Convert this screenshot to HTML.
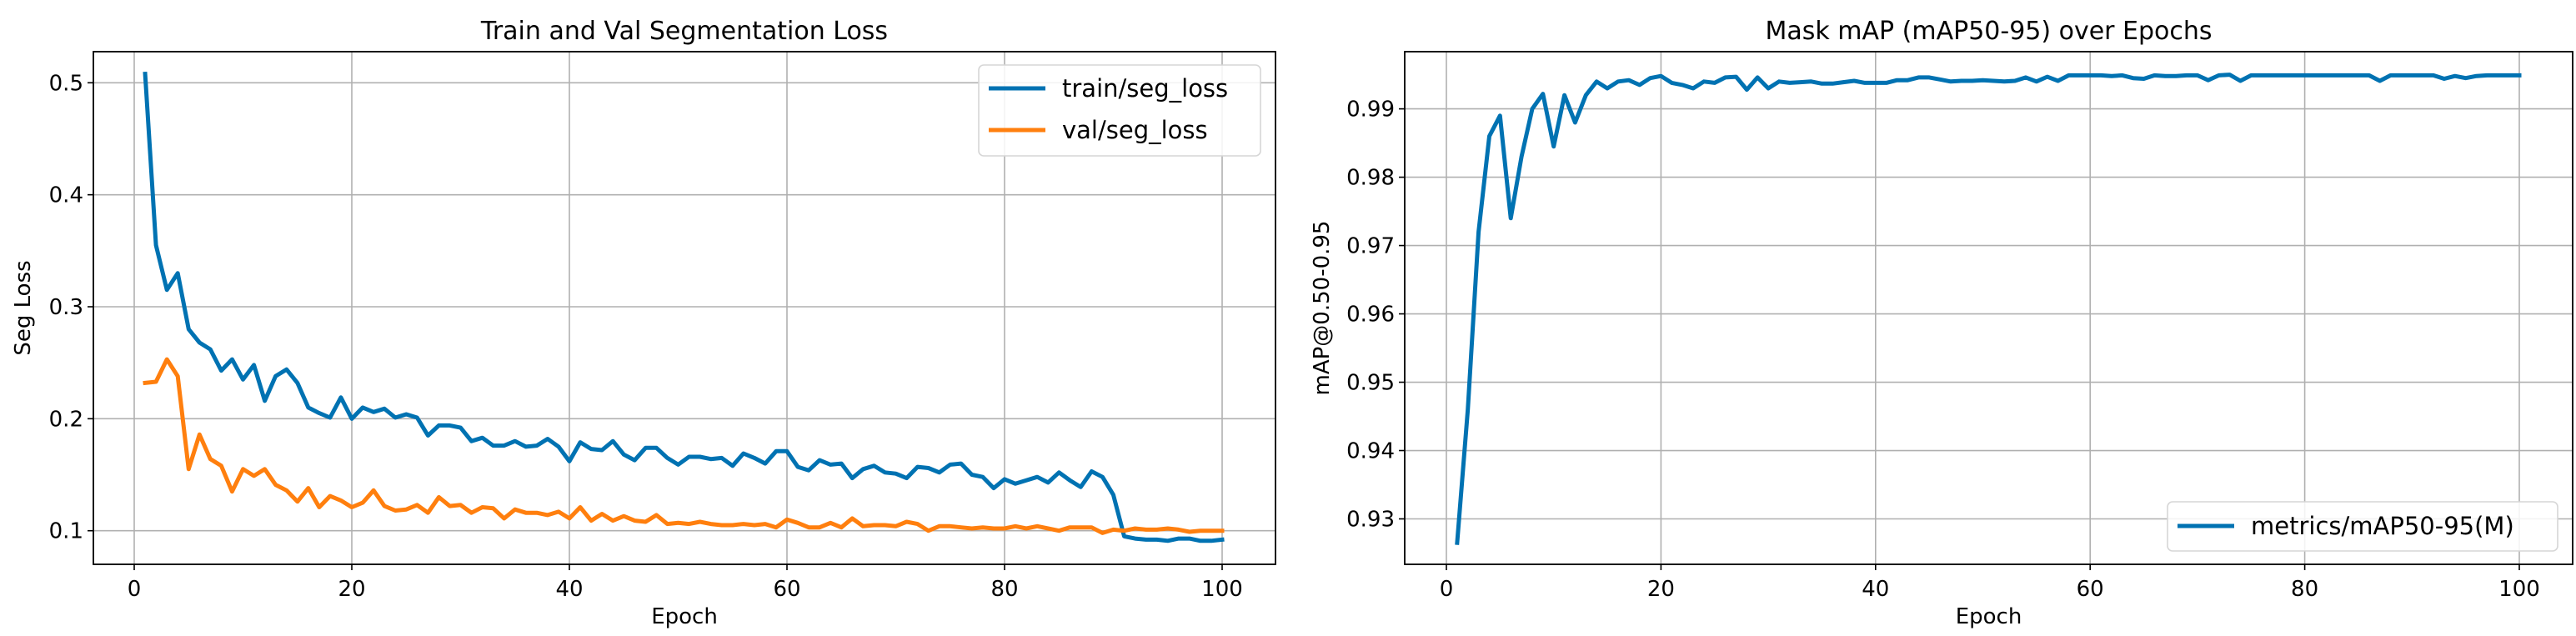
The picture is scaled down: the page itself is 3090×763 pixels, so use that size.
<!DOCTYPE html>
<html><head><meta charset="utf-8"><style>
html,body{margin:0;padding:0;background:#fff;}
svg{display:block;font-family:"DejaVu Sans","Liberation Sans",sans-serif;}
</style></head><body>
<svg id="chart" width="3090" height="763" viewBox="0 0 3090 763" xmlns="http://www.w3.org/2000/svg"></svg>
<script>
const epochs = Array.from({length:100},(_,i)=>i+1);
const trainLoss = [0.508,0.355,0.315,0.33,0.28,0.268,0.262,0.243,0.253,0.235,0.248,0.216,0.238,0.244,0.232,0.21,0.205,0.201,0.219,0.2,0.21,0.206,0.209,0.201,0.204,0.201,0.185,0.194,0.194,0.192,0.18,0.183,0.176,0.176,0.18,0.175,0.176,0.182,0.175,0.162,0.179,0.173,0.172,0.18,0.168,0.163,0.174,0.174,0.165,0.159,0.166,0.166,0.164,0.165,0.158,0.169,0.165,0.16,0.171,0.171,0.157,0.154,0.163,0.159,0.16,0.147,0.155,0.158,0.152,0.151,0.147,0.157,0.156,0.152,0.159,0.16,0.15,0.148,0.138,0.146,0.142,0.145,0.148,0.143,0.152,0.145,0.139,0.153,0.148,0.132,0.095,0.093,0.092,0.092,0.091,0.093,0.093,0.091,0.091,0.092];
const valLoss = [0.232,0.233,0.253,0.238,0.155,0.186,0.164,0.158,0.135,0.155,0.149,0.155,0.141,0.136,0.126,0.138,0.121,0.131,0.127,0.121,0.125,0.136,0.122,0.118,0.119,0.123,0.116,0.13,0.122,0.123,0.116,0.121,0.12,0.111,0.119,0.116,0.116,0.114,0.117,0.111,0.121,0.109,0.115,0.109,0.113,0.109,0.108,0.114,0.106,0.107,0.106,0.108,0.106,0.105,0.105,0.106,0.105,0.106,0.103,0.11,0.107,0.103,0.103,0.107,0.103,0.111,0.104,0.105,0.105,0.104,0.108,0.106,0.1,0.104,0.104,0.103,0.102,0.103,0.102,0.102,0.104,0.102,0.104,0.102,0.1,0.103,0.103,0.103,0.098,0.101,0.1,0.102,0.101,0.101,0.102,0.101,0.099,0.1,0.1,0.1];
const mapVals = [0.9265,0.946,0.972,0.986,0.989,0.974,0.983,0.990,0.9922,0.9845,0.992,0.988,0.992,0.994,0.993,0.994,0.9942,0.9935,0.9945,0.9948,0.9938,0.9935,0.993,0.994,0.9938,0.9946,0.9947,0.9928,0.9946,0.993,0.994,0.9938,0.9939,0.994,0.9937,0.9937,0.9939,0.9941,0.9938,0.9938,0.9938,0.9942,0.9942,0.9946,0.9946,0.9943,0.994,0.9941,0.9941,0.9942,0.9941,0.994,0.9941,0.9946,0.994,0.9947,0.9941,0.9949,0.9949,0.9949,0.9949,0.9948,0.9949,0.9945,0.9944,0.9949,0.9948,0.9948,0.9949,0.9949,0.9942,0.9949,0.995,0.9941,0.9949,0.9949,0.9949,0.9949,0.9949,0.9949,0.9949,0.9949,0.9949,0.9949,0.9949,0.9949,0.9941,0.9949,0.9949,0.9949,0.9949,0.9949,0.9944,0.9948,0.9945,0.9948,0.9949,0.9949,0.9949,0.9949];
const xTicks = [0,20,40,60,80,100];
const lossTicks = [0.1,0.2,0.3,0.4,0.5];
const mapTicks = [0.93,0.94,0.95,0.96,0.97,0.98,0.99];

const svg = document.getElementById('chart');
const NS = 'http://www.w3.org/2000/svg';
function mk(tag, attrs, parent){
  const e = document.createElementNS(NS, tag);
  for (const k in attrs) e.setAttribute(k, attrs[k]);
  (parent||svg).appendChild(e);
  return e;
}
function txt(s, attrs, parent){ const t = mk('text', attrs, parent); t.textContent = s; return t; }

function panel(cfg){
  const g = mk('g', {});
  
  
  const xS = v => cfg.x0 + (v - 0) * (cfg.x100 - cfg.x0) / 100;
  const yS = v => cfg.yA + (v - cfg.vA) * (cfg.yB - cfg.yA) / (cfg.vB - cfg.vA);
  // grid
  xTicks.forEach(t => {
    const l = mk('line', {x1:xS(t), x2:xS(t), y1:cfg.top, y2:cfg.bot, stroke:'#b0b0b0', 'stroke-width':1.6}, g);
    
    
    const tk = mk('line', {x1:xS(t), x2:xS(t), y1:cfg.bot, y2:cfg.bot+7, stroke:'#000', 'stroke-width':1.6}, g);
    
    
    const lb = txt(String(t), {x:xS(t), y:cfg.bot+38, 'font-size':26, 'text-anchor':'middle', fill:'#000'}, g);
    
    
  });
  cfg.yTicks.forEach(t => {
    const l = mk('line', {x1:cfg.left, x2:cfg.right, y1:yS(t), y2:yS(t), stroke:'#b0b0b0', 'stroke-width':1.6}, g);
    
    
    const tk = mk('line', {x1:cfg.left-7, x2:cfg.left, y1:yS(t), y2:yS(t), stroke:'#000', 'stroke-width':1.6}, g);
    
    
    const lb = txt(cfg.fmt(t), {x:cfg.left-12, y:yS(t)+9, 'font-size':26, 'text-anchor':'end', fill:'#000'}, g);
    
    
  });
  // series
  cfg.series.forEach(s => {
    const d = s.vals.map((v,i) => (i?'L':'M') + xS(epochs[i]).toFixed(1) + ' ' + yS(v).toFixed(1)).join(' ');
    const p = mk('path', {d:d, fill:'none', stroke:s.color, 'stroke-width':5, 'stroke-linejoin':'round', 'stroke-linecap':'square'}, g);
    
    
  });
  // frame
  const fr = mk('rect', {x:cfg.left, y:cfg.top, width:cfg.right-cfg.left, height:cfg.bot-cfg.top, fill:'none', stroke:'#000', 'stroke-width':1.8}, g);
  
  
  const ti = txt(cfg.title, {x:(cfg.left+cfg.right)/2, y:47, 'font-size':30, 'text-anchor':'middle', fill:'#000'}, g);
  
  
  const xl = txt('Epoch', {x:(cfg.left+cfg.right)/2, y:748, 'font-size':26, 'text-anchor':'middle', fill:'#000'}, g);
  
  
  const yl = txt(cfg.ylabel, {x:0, y:0, 'font-size':26, 'text-anchor':'middle', fill:'#000', transform:`translate(${cfg.ylx},${(cfg.top+cfg.bot)/2}) rotate(-90)`}, g);
  
  
  // legend
  const L = cfg.legend;
  const lg = mk('g', {}, g);
  
  
  mk('rect', {x:L.x, y:L.y, width:L.w, height:L.h, rx:6, fill:'#fff', 'fill-opacity':0.85, stroke:'#d6d6d6', 'stroke-width':1.6}, lg);
  cfg.series.forEach((s,i) => {
    const ey = L.y + 28 + i*50 + (L.h < 80 ? 1 : 0);
    const ln = mk('line', {x1:L.x+12, x2:L.x+80, y1:ey, y2:ey, stroke:s.color, 'stroke-width':5}, lg);
    
    
    const lt = txt(s.label, {x:L.x+100, y:ey+10, 'font-size':29, fill:'#000'}, lg);
    
    
  });
}

panel({name:'seg-loss-chart', left:112, right:1530, top:62, bot:677, x0:161, x100:1466,
  yA:636.7, vA:0.1, yB:99.3, vB:0.5, yTicks:lossTicks, fmt:v=>v.toFixed(1),
  title:'Train and Val Segmentation Loss', ylabel:'Seg  Loss', ylx:36,
  series:[{id:'train-seg-loss-line', label:'train/seg_loss', color:'#0072b2', vals:trainLoss},
          {id:'val-seg-loss-line', label:'val/seg_loss', color:'#ff7f0e', vals:valLoss}],
  legend:{x:1174, y:78, w:338, h:109}});
panel({name:'mask-map-chart', left:1685, right:3086, top:62, bot:677, x0:1735, x100:3022,
  yA:622.5, vA:0.93, yB:130.6, vB:0.99, yTicks:mapTicks, fmt:v=>v.toFixed(2),
  title:'Mask mAP (mAP50-95) over Epochs', ylabel:'mAP@0.50-0.95', ylx:1594,
  series:[{id:'map50-95-line', label:'metrics/mAP50-95(M)', color:'#0072b2', vals:mapVals}],
  legend:{x:2600, y:602, w:468, h:59}});
</script>
</body></html>
